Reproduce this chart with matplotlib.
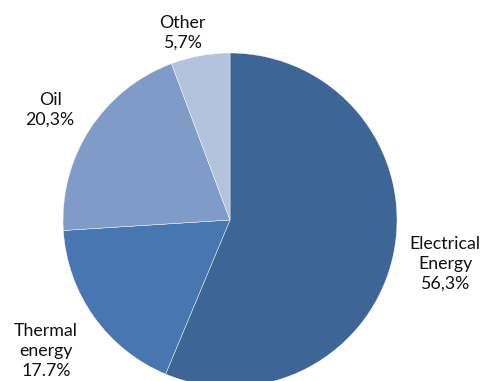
import matplotlib
matplotlib.use("Agg")
import matplotlib.pyplot as plt

labels = ["Electrical\nEnergy\n56,3%", "Thermal\nenergy\n17.7%", "Oil\n20,3%", "Other\n5,7%"]
values = [56.3, 17.7, 20.3, 5.7]
colors = ["#3D6596", "#4876B0", "#7F9CC8", "#B3C2DD"]

plt.rcParams["font.family"] = ["Lato", "DejaVu Sans"]

W, H = 483, 381
fig = plt.figure(figsize=(W / 100, H / 100), dpi=100)
ax = fig.add_axes([0, 0, 1, 1])

cx, cy, r = 230, H - 220, 167
wedges, texts = ax.pie(
    values,
    labels=labels,
    colors=colors,
    startangle=90,
    counterclock=False,
    center=(cx, cy),
    radius=r,
    wedgeprops=dict(edgecolor="white", linewidth=0.3),
    textprops=dict(fontsize=12.8, color="#111111", ha="center", va="center",
                   linespacing=1.3),
    frame=True,
)
ax.set_xlim(0, W)
ax.set_ylim(0, H)
ax.set_aspect("equal")
ax.axis("off")

# label positions (pixels from top-left)
label_pos = [(445, 264), (46, 351), (50, 110), (182, 33)]
for t, (x, y) in zip(texts, label_pos):
    t.set_position((x, H - y))
    t.set_ha("center")
    t.set_va("center")

fig.savefig("out.png", dpi=100)
